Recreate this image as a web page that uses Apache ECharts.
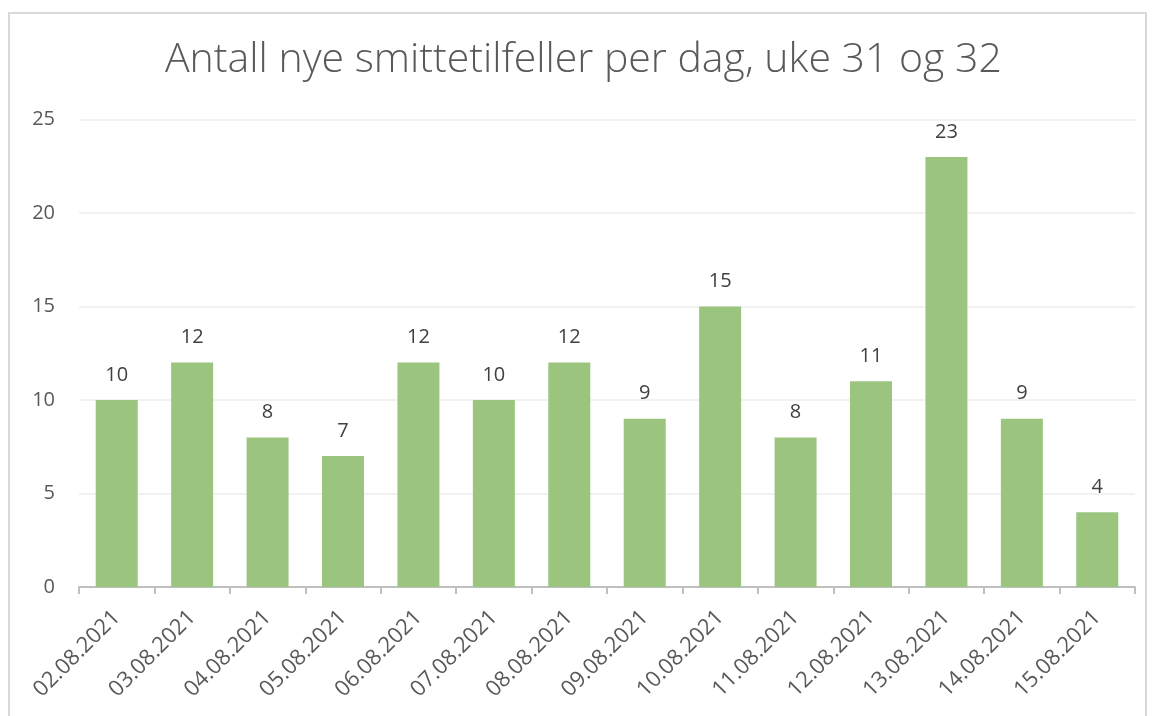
<!DOCTYPE html>
<html><head><meta charset="utf-8">
<script src="https://cdn.jsdelivr.net/npm/echarts@6/dist/echarts.min.js"></script>
<style>html,body{margin:0;padding:0;background:#fff;}#c{width:1153px;height:716px;}</style>
</head><body><div id="c"></div>
<script>
const titleText = 'Antall nye smittetilfeller per dag, uke 31 og 32';
const categories = ['02.08.2021','03.08.2021','04.08.2021','05.08.2021','06.08.2021','07.08.2021','08.08.2021','09.08.2021','10.08.2021','11.08.2021','12.08.2021','13.08.2021','14.08.2021','15.08.2021'];
const cases = [10,12,8,7,12,10,12,9,15,8,11,23,9,4];
const yTicks = {min:0, max:25, interval:5};

const chart = echarts.init(document.getElementById('c'), null, {renderer:'canvas'});
chart.setOption({
  animation:false,
  backgroundColor:'#fff',
  graphic:[{type:'rect', shape:{x:9, y:13, width:1137, height:720}, style:{fill:'none', stroke:'#d9d9d9', lineWidth:2}, silent:true}],
  title:{text:titleText, left:160, top:35, textStyle:{fontFamily:'Open Sans', fontWeight:300, fontSize:41, color:'#595959'}},
  grid:{left:79, right:18, top:119.5, bottom:129, containLabel:false},
  xAxis:{type:'category', data:categories,
    axisLine:{lineStyle:{color:'#bfbfbf', width:2}},
    axisTick:{show:true, alignWithLabel:false, length:7, lineStyle:{color:'#bfbfbf', width:2}},
    axisLabel:{rotate:45, interval:0, margin:27, fontFamily:'Open Sans', fontSize:22, color:'#595959'}},
  yAxis:{type:'value', min:yTicks.min, max:yTicks.max, interval:yTicks.interval,
    axisLine:{show:false}, axisTick:{show:false},
    splitLine:{lineStyle:{color:'#ececec', width:1.5}},
    axisLabel:{margin:24, fontFamily:'Open Sans', fontSize:20, color:'#595959'}},
  series:[{type:'bar', data:cases, barWidth:42,
    itemStyle:{color:'#9bc57e'},
    label:{show:true, position:'top', distance:15, fontFamily:'Open Sans', fontSize:20, color:'#404040'}}]
});
</script></body></html>
